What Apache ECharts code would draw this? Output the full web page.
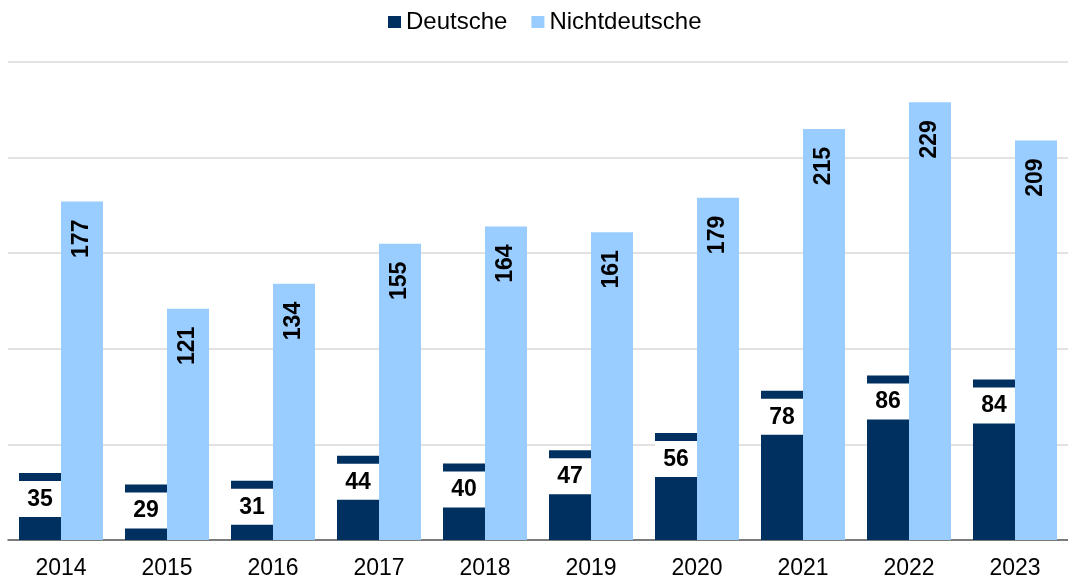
<!DOCTYPE html>
<html>
<head>
<meta charset="utf-8">
<script src="https://cdn.jsdelivr.net/npm/echarts@6/dist/echarts.min.js"></script>
<style>html,body{margin:0;padding:0;background:#fff}#c{width:1068px;height:582px}</style>
</head>
<body>
<div id="c"></div>
<script>
const categories = ['2014','2015','2016','2017','2018','2019','2020','2021','2022','2023'];
const deutsche = [35,29,31,44,40,47,56,78,86,84];
const nichtdeutsche = [177,121,134,155,164,161,179,215,229,209];
const seriesNames = ['Deutsche','Nichtdeutsche'];

const FONT = '"Liberation Sans", Arial, sans-serif';
const chart = echarts.init(document.getElementById('c'), null, {renderer:'canvas'});
chart.setOption({
  animation: false,
  textStyle: {fontFamily: FONT},
  legend: {
    top: 5, left: 383,
    itemWidth: 13, itemHeight: 12, itemGap: 24,
    icon: 'rect',
    textStyle: {fontSize: 24, color: '#000', fontFamily: FONT},
    data: seriesNames
  },
  grid: {left: 8, right: 0, top: 62, bottom: 42, containLabel: false},
  xAxis: {
    type: 'category', data: categories,
    axisLine: {lineStyle: {color: '#595959', width: 1.5}},
    axisTick: {show: false},
    axisLabel: {fontSize: 23, color: '#000', margin: 17, fontFamily: FONT}
  },
  yAxis: {
    type: 'value', min: 0, max: 250, interval: 50,
    axisLabel: {show: false}, axisLine: {show: false}, axisTick: {show: false},
    splitLine: {lineStyle: {color: '#d9d9d9', width: 1.5}}
  },
  series: [
    {
      name: seriesNames[0], type: 'bar', data: deutsche,
      barWidth: 42, barGap: '0%',
      itemStyle: {color: '#00305f'},
      label: {
        show: true, position: 'insideTop', distance: 8,
        color: '#000', fontWeight: 'bold', fontSize: 23, fontFamily: FONT,
        backgroundColor: '#fff', width: 42, align: 'center',
        padding: [7,0,6,0], lineHeight: 23
      }
    },
    {
      name: seriesNames[1], type: 'bar', data: nichtdeutsche,
      barWidth: 42,
      itemStyle: {color: '#99ccff'},
      label: {
        show: true, position: 'insideTop', distance: 18, rotate: 90,
        align: 'right', verticalAlign: 'middle',
        color: '#000', fontWeight: 'bold', fontSize: 23, fontFamily: FONT
      }
    }
  ]
});
</script>
</body>
</html>
